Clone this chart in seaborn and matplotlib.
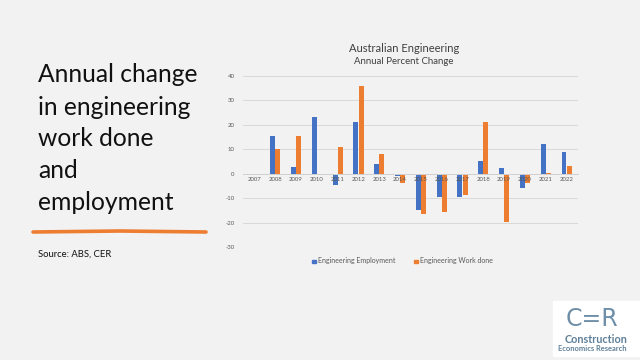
import matplotlib
matplotlib.use("Agg")
import matplotlib.pyplot as plt
import seaborn as sns
import pandas as pd
from matplotlib.patches import Rectangle

years = [str(y) for y in range(2007, 2023)]
employment = [0, 15.2, 2.7, 23.1, -4.7, 21.2, 3.8, -1.1, -14.6, -9.5, -9.5, 5.4, 2.4, -5.9, 12.2, 8.7]
work_done = [0, 10.0, 15.2, 0, 10.8, 35.9, 8.0, -3.6, -16.4, -15.7, -8.7, 21.2, -19.6, -3.7, 0.4, 3.3]
series_names = ["Engineering Employment", "Engineering Work done"]
yticks = [40, 30, 20, 10, 0, -10, -20, -30]

BG = "#f2f2f2"
sns.set_theme(style="white")
plt.rcParams["font.family"] = ["Lato", "DejaVu Sans"]

df = pd.DataFrame({
    "year": years * 2,
    "value": employment + work_done,
    "series": [series_names[0]] * len(years) + [series_names[1]] * len(years),
})

fig = plt.figure(figsize=(6.4, 3.6), dpi=100, facecolor=BG)
ax = fig.add_axes([243 / 640, 1 - 247.3 / 360, (578 - 243) / 640, (247.3 - 75.7) / 360])
ax.set_facecolor(BG)

sns.barplot(data=df, x="year", y="value", hue="series", order=years,
            hue_order=series_names, palette=["#4472C4", "#ED7D31"], saturation=1,
            width=0.5, gap=0.06, linewidth=0, ax=ax, legend=False)

ax.set_ylim(-30, 40)
ax.set_xlim(-0.55, len(years) - 0.45)
ax.set_yticks(yticks)
ax.set_yticklabels([str(t) for t in yticks], fontsize=4.3, color="#595959")
ax.yaxis.grid(True, color="#d9d9d9", linewidth=0.7)
ax.set_axisbelow(True)
for s in ["top", "right", "left"]:
    ax.spines[s].set_visible(False)
ax.spines["bottom"].set_position(("data", 0))
ax.spines["bottom"].set_color("#d0d0d0")
ax.spines["bottom"].set_linewidth(0.7)
ax.set_xticks(range(len(years)))
ax.set_xticklabels([])
ax.tick_params(axis="x", length=0)
ax.tick_params(axis="y", length=0, pad=6)
ax.set_xlabel("")
ax.set_ylabel("")
for i, yr in enumerate(years):
    ax.annotate(yr, xy=(i, 0), xycoords="data", xytext=(0, -2.5),
                textcoords="offset points", ha="center", va="top",
                fontsize=4.3, color="#595959", zorder=10, annotation_clip=False)

# chart titles
fig.text(404 / 640, 1 - 48 / 360, "Australian Engineering", ha="center", va="center",
         fontsize=8.0, color="#404040")
fig.text(404 / 640, 1 - 62 / 360, "Annual Percent Change", ha="center", va="center",
         fontsize=6.9, color="#404040")

# legend
fig.patches.append(Rectangle((312 / 640, 1 - 263 / 360), 3.5 / 640, 3.5 / 360,
                             transform=fig.transFigure, color="#4472C4"))
fig.text(318 / 640, 1 - 261 / 360, series_names[0], ha="left", va="center",
         fontsize=5.0, color="#595959")
fig.patches.append(Rectangle((414 / 640, 1 - 263 / 360), 3.5 / 640, 3.5 / 360,
                             transform=fig.transFigure, color="#ED7D31"))
fig.text(420 / 640, 1 - 261 / 360, series_names[1], ha="left", va="center",
         fontsize=5.0, color="#595959")

# left slide heading
heading = ["Annual change", "in engineering", "work done", "and", "employment"]
line_y = [75, 107, 138, 170, 202]
for txt, yy in zip(heading, line_y):
    fig.text(38 / 640, 1 - yy / 360, txt, ha="left", va="center", fontsize=17.7,
             color="#111111", family=["Lato", "DejaVu Sans"])
fig.add_artist(plt.Line2D([33 / 640, 120 / 640, 206 / 640],
                          [1 - 232 / 360, 1 - 231 / 360, 1 - 232 / 360],
                          transform=fig.transFigure, color="#ED7D31", linewidth=2.6,
                          solid_capstyle="round"))
fig.text(38 / 640, 1 - 254 / 360, "Source: ABS, CER", ha="left", va="center",
         fontsize=6.8, color="#111111", family=["Lato", "DejaVu Sans"])

# logo
fig.patches.append(Rectangle((553 / 640, 1 - 356 / 360), 87 / 640, 55 / 360,
                             transform=fig.transFigure, color="white"))
fig.text(592 / 640, 1 - 319 / 360, "C=R", ha="center", va="center", fontsize=17,
         color="#6f8fa8", family=["DejaVu Sans"])
fig.text(596 / 640, 1 - 339.5 / 360, "Construction", ha="center", va="center",
         fontsize=7.8, fontweight="bold", color="#5e7f98")
fig.text(592 / 640, 1 - 348.5 / 360, "Economics Research", ha="center", va="center",
         fontsize=5.4, fontweight="bold", color="#5e7f98")

fig.savefig("out.png", dpi=100, facecolor=BG)
